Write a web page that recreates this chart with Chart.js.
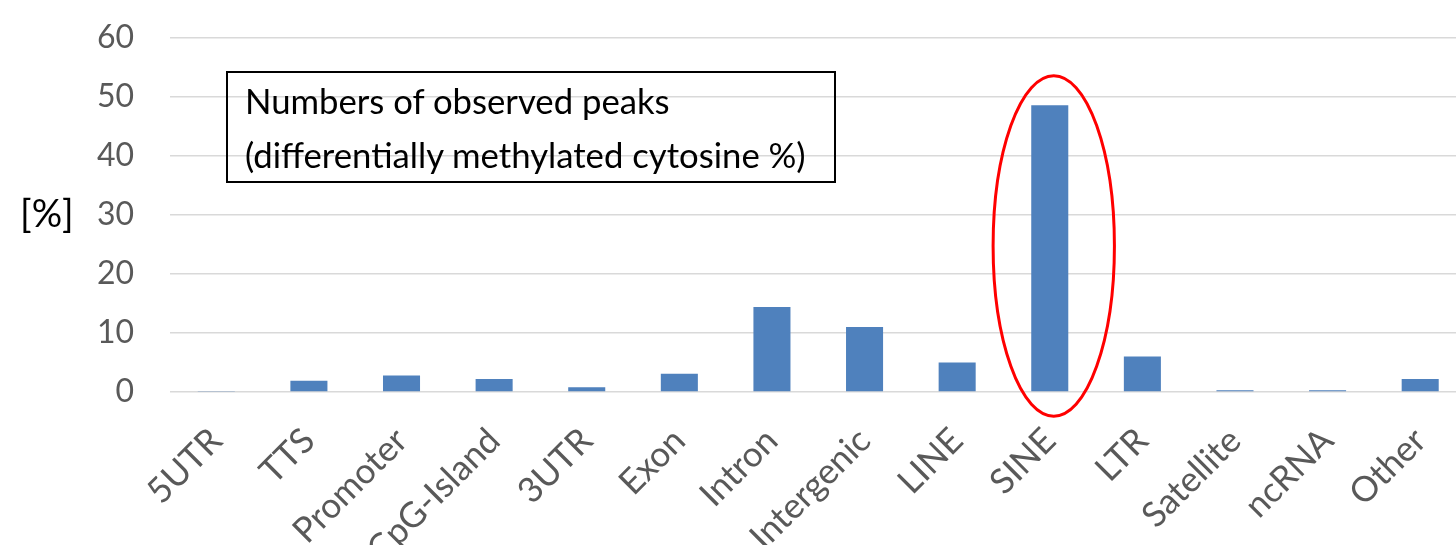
<!DOCTYPE html>
<html>
<head>
<meta charset="utf-8">
<script src="https://cdn.jsdelivr.net/npm/chart.js@4.4.1/dist/chart.umd.min.js"></script>
<style>
  html, body { margin: 0; padding: 0; background: #fff; overflow: hidden; }
  #wrap { position: relative; width: 1470px; height: 545px; }
  #note {
    position: absolute; left: 226px; top: 71px; width: 606px; height: 108px;
    border: 2px solid #000; box-sizing: content-box;
    font-family: Lato, sans-serif; font-size: 34.7px; line-height: 54px; color: #000;
    padding: 0; 
  }
  #note div { padding-left: 17px; white-space: nowrap; }
</style>
</head>
<body>
<div id="wrap">
  <canvas id="bar-chart"></canvas>
  <div id="note">
    <div style="margin-top:1px">Numbers of observed peaks</div>
    <div>(differentially methylated cytosine %)</div>
  </div>
</div>
<script>
// Genomic regions (x axis)
var regions = ['5UTR', 'TTS', 'Promoter', 'CpG-Island', '3UTR', 'Exon', 'Intron',
               'Intergenic', 'LINE', 'SINE', 'LTR', 'Satellite', 'ncRNA', 'Other'];

// Percent of peaks in each region
var peak_percent = [0.1, 1.9, 2.8, 2.2, 0.8, 3.1, 14.4, 11.0, 5.0, 48.6, 6.0, 0.3, 0.3, 2.2];

// Y axis ticks
var y_min = 0;
var y_max = 60;
var y_step = 10;

// Red ring round the SINE bar: [category index, bottom value, top value]
var highlight = [9, -4.1, 53.6];

var gray_text = '#595959';

// Draws the "[%]" unit label and the red ellipse using the chart's own scales
var extras = {
    id: 'extras',
    afterDatasetsDraw: function (chart) {
        var ctx = chart.ctx;
        var x = chart.scales.x;
        var y = chart.scales.y;

        ctx.save();
        ctx.font = '38px Lato, sans-serif';
        ctx.fillStyle = '#000';
        ctx.textAlign = 'left';
        ctx.textBaseline = 'middle';
        ctx.fillText('[%]', 20, y.getPixelForValue(30));
        ctx.restore();

        var step = x.getPixelForValue(1) - x.getPixelForValue(0);
        var cx = x.getPixelForValue(highlight[0]) + 4;
        var top = y.getPixelForValue(highlight[2]);
        var bottom = y.getPixelForValue(highlight[1]);
        ctx.save();
        ctx.beginPath();
        ctx.ellipse(cx, (top + bottom) / 2, step * 0.655, (bottom - top) / 2, 0, 0, Math.PI * 2);
        ctx.strokeStyle = '#ff0000';
        ctx.lineWidth = 3;
        ctx.stroke();
        ctx.restore();
    }
};

var ctx = document.getElementById('bar-chart').getContext('2d');
var chart = new Chart(ctx, {
    type: 'bar',
    data: {
        labels: regions,
        datasets: [{
            label: 'Peaks',
            data: peak_percent,
            backgroundColor: '#4f81bd',
            categoryPercentage: 0.4,
            barPercentage: 1.0
        }]
    },
    options: {
        responsive: true,
        maintainAspectRatio: false,
        animation: false,
        layout: { padding: { top: 38, right: 3, left: 0, bottom: 0 } },
        plugins: {
            legend: { display: false },
            tooltip: { enabled: false }
        },
        scales: {
            x: {
                grid: { display: false },
                border: { display: false },
                ticks: {
                    color: gray_text,
                    font: { family: 'Lato, sans-serif', size: 35 },
                    minRotation: 45,
                    maxRotation: 45,
                    padding: 20,
                    autoSkip: false
                },
                afterFit: function (scale) { scale.height = 153; }
            },
            y: {
                min: y_min,
                max: y_max,
                grid: { color: '#d9d9d9', lineWidth: 1.5, drawTicks: true, tickLength: 36, tickColor: 'rgba(0,0,0,0)' },
                border: { display: false },
                ticks: {
                    stepSize: y_step,
                    color: gray_text,
                    font: { family: 'Lato, sans-serif', size: 32 },
                    padding: 0
                },
                afterFit: function (scale) { scale.width = 170; }
            }
        }
    },
    plugins: [extras]
});
</script>
</body>
</html>
